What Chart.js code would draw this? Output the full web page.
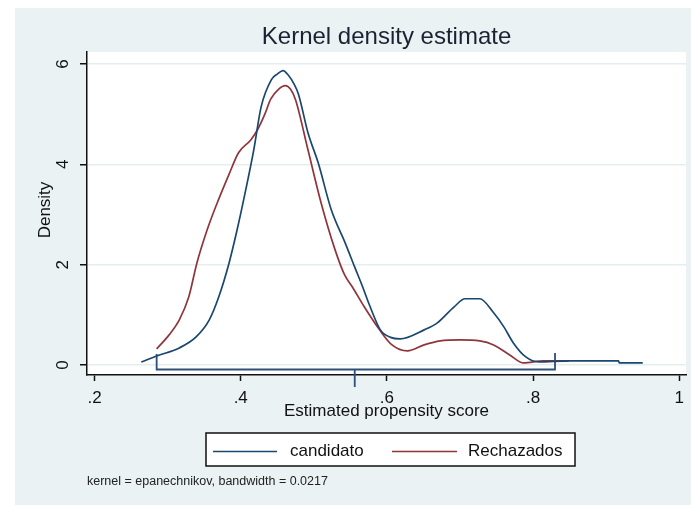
<!DOCTYPE html>
<html><head><meta charset="utf-8">
<script src="https://cdn.jsdelivr.net/npm/chart.js@4/dist/chart.umd.min.js"></script>
<style>html,body{margin:0;padding:0;background:#fff}#wrap{width:691px;height:505px;position:relative}</style>
</head><body><div id="wrap"><canvas id="c" width="691" height="505"></canvas></div>
<script>
// ---- data ----
const candX = [0.264,0.285,0.316,0.339,0.357,0.370,0.384,0.395,0.407,0.418,0.428,0.442,0.450,0.458,0.465,0.473,0.479,0.492,0.506,0.524,0.543,0.556,0.567,0.576,0.591,0.605,0.618,0.651,0.669,0.692,0.707,0.727,0.746,0.760,0.773,0.790,0.808,0.849,0.917,0.918,0.950];
const candY = [0.06,0.18,0.34,0.56,0.90,1.36,2.03,2.69,3.50,4.30,5.15,5.69,5.80,5.87,5.78,5.60,5.40,4.63,4.03,3.09,2.43,1.95,1.55,1.20,0.70,0.55,0.52,0.70,0.84,1.16,1.32,1.32,1.04,0.76,0.44,0.16,0.06,0.08,0.08,0.04,0.04];
const rechX = [0.285,0.302,0.316,0.329,0.340,0.354,0.367,0.384,0.397,0.414,0.423,0.433,0.441,0.452,0.461,0.468,0.475,0.492,0.510,0.529,0.542,0.553,0.569,0.590,0.607,0.628,0.651,0.673,0.700,0.727,0.746,0.768,0.787,0.814,0.849];
const rechY = [0.32,0.60,0.90,1.36,2.03,2.69,3.20,3.80,4.23,4.49,4.69,5.00,5.30,5.50,5.57,5.50,5.29,4.29,3.23,2.30,1.80,1.55,1.16,0.70,0.40,0.28,0.40,0.48,0.50,0.48,0.40,0.20,0.04,0.08,0.08];
const braceX = [0.285,0.285,0.556,0.556,0.556,0.830,0.830];
const braceY = [0.22,-0.09,-0.09,-0.44,-0.09,-0.09,0.24];
const seriesNames = ['candidato','Rechazados'];
const xTicks = [0.2,0.4,0.6,0.8,1];
const yTicks = [0,2,4,6];
const titleText = 'Kernel density estimate';
const xTitle = 'Estimated propensity score';
const yTitle = 'Density';
const noteText = 'kernel = epanechnikov, bandwidth = 0.0217';

const BLUE = '#1a476f', RED = '#90353b', BG = '#eaf2f3';
const FONT = "'Liberation Sans', Arial, sans-serif";
const pts = (xs, ys) => xs.map((x, i) => ({x, y: ys[i]}));

const deco = {
  id: 'deco',
  beforeDraw(chart) {
    const c = chart.ctx, a = chart.chartArea;
    c.save();
    c.fillStyle = '#fff'; c.fillRect(0, 0, 691, 505);
    c.fillStyle = BG; c.fillRect(15, 8, 676, 497);
    c.fillStyle = '#fff'; c.fillRect(a.left, a.top, a.right - a.left, a.bottom - a.top);
    c.restore();
  },
  afterDraw(chart) {
    const c = chart.ctx, a = chart.chartArea;
    c.save();
    c.fillStyle = '#1c2233';
    c.textAlign = 'center'; c.textBaseline = 'middle';
    c.font = '24px ' + FONT;
    c.fillText(titleText, (a.left + a.right) / 2, 37);
    c.fillStyle = '#111';
    c.font = '17px ' + FONT;
    c.fillText(xTitle, (a.left + a.right) / 2, 411);
    c.save(); c.translate(45, 210); c.rotate(-Math.PI / 2);
    c.fillText(yTitle, 0, 0); c.restore();
    // legend
    c.fillStyle = '#fff'; c.fillRect(206, 433, 369, 33);
    c.strokeStyle = '#111'; c.lineWidth = 1.5; c.strokeRect(206, 433, 369, 33);
    const items = [[BLUE, 213, 277, 290], [RED, 392, 457, 468]];
    c.font = '17px ' + FONT; c.textAlign = 'left'; c.fillStyle = '#111';
    items.forEach((it, i) => {
      c.strokeStyle = it[0]; c.lineWidth = 1.6;
      c.beginPath(); c.moveTo(it[1], 451.5); c.lineTo(it[2], 451.5); c.stroke();
      c.fillText(seriesNames[i], it[3], 451);
    });
    c.font = '12.5px ' + FONT; c.fillStyle = '#222';
    c.fillText(noteText, 87, 482);
    c.restore();
  }
};

new Chart(document.getElementById('c'), {
  type: 'line',
  data: {
    datasets: [
      {label: seriesNames[0], data: pts(candX, candY), borderColor: BLUE, borderWidth: 1.7, pointRadius: 0, cubicInterpolationMode: 'monotone', fill: false},
      {label: seriesNames[1], data: pts(rechX, rechY), borderColor: RED, borderWidth: 1.7, pointRadius: 0, cubicInterpolationMode: 'monotone', fill: false},
      {label: 'brace', data: pts(braceX, braceY), borderColor: '#2d5078', borderWidth: 1.8, pointRadius: 0, tension: 0, fill: false, clip: false}
    ]
  },
  options: {
    responsive: false, animation: false, devicePixelRatio: 1,
    layout: {padding: {top: 52, left: 0, right: 0, bottom: 0}},
    plugins: {legend: {display: false}, tooltip: {enabled: false}, title: {display: false}},
    scales: {
      x: {
        type: 'linear', min: 0.1897, max: 1.0093,
        afterFit(s) { s.height = 130; },
        afterBuildTicks(s) { s.ticks = xTicks.map(v => ({value: v})); },
        grid: {drawOnChartArea: false, drawTicks: true, tickLength: 6, tickColor: '#111', tickWidth: 1.5},
        border: {color: '#111', width: 1.5},
        ticks: {padding: 7, color: '#111', font: {family: FONT, size: 17}, maxRotation: 0,
          callback: v => (v === 1 ? '1' : String(v).replace(/^0/, ''))}
      },
      y: {
        type: 'linear', min: -0.2, max: 6.24,
        afterFit(s) { s.width = 87; },
        afterBuildTicks(s) { s.ticks = yTicks.map(v => ({value: v})); },
        grid: {color: '#e4eef0', lineWidth: 1.5, tickLength: 7, tickColor: '#111', tickWidth: 1.5},
        border: {color: '#111', width: 1.5},
        ticks: {padding: 12, color: '#111', font: {family: FONT, size: 17}, minRotation: 90, maxRotation: 90, crossAlign: 'center',
          callback: v => String(v)}
      }
    }
  },
  plugins: [deco]
});
</script></body></html>
